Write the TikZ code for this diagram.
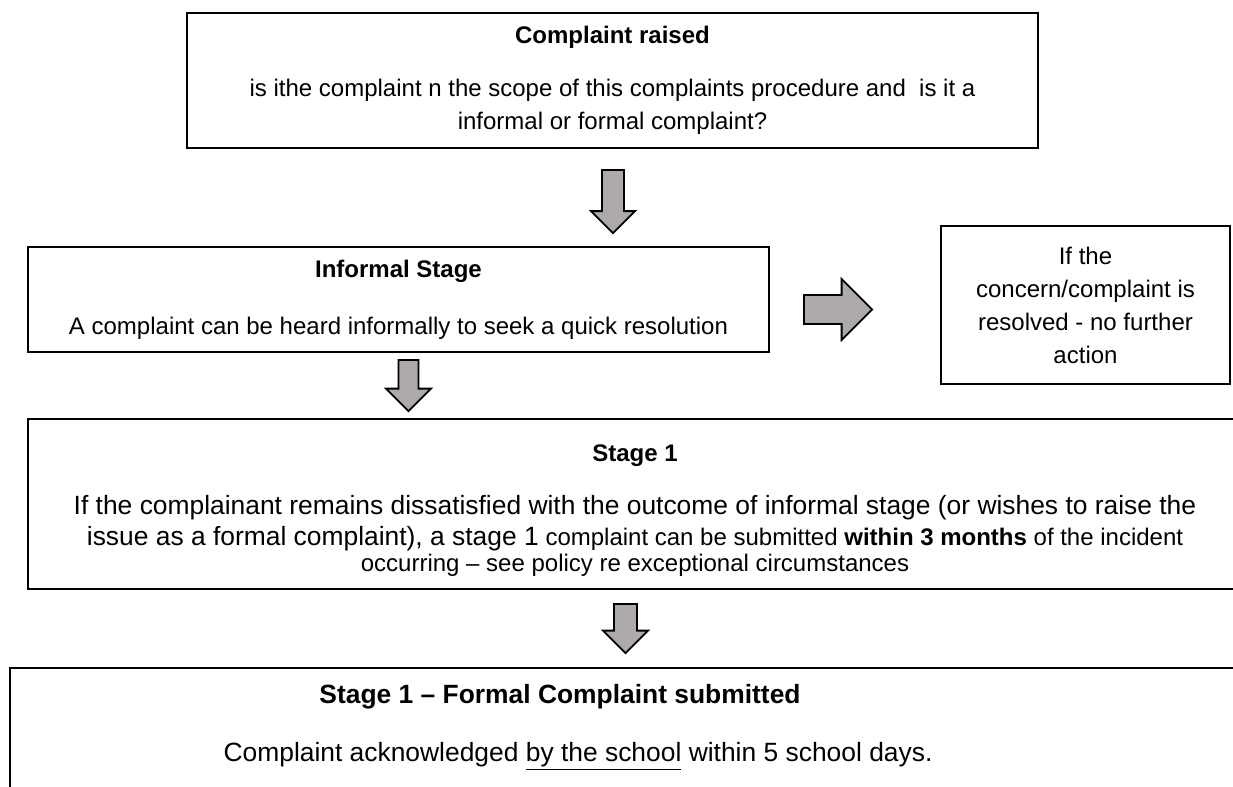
\documentclass[tikz,border=0pt]{standalone}
\usepackage{fontspec}
\setmainfont{Liberation Sans}
\usetikzlibrary{shapes.arrows, positioning}

\definecolor{arrowgray}{RGB}{174,170,170}
\newcommand{\boxfont}{\fontsize{12pt}{16.5pt}\selectfont}
\newcommand{\boxhead}{\fontsize{12pt}{16.5pt}\selectfont\bfseries}
\newcommand{\boxbig}{\fontsize{13.2pt}{15.5pt}\selectfont}

\begin{document}
\begin{tikzpicture}[x=0.5pt, y=-0.5pt,
  box/.style={draw, line width=0.9pt, align=center, inner sep=0pt, font=\boxfont},
  blockarrow/.style={single arrow, draw, line width=0.9pt, fill=arrowgray, inner xsep=0pt, anchor=tail}]

\useasboundingbox (0,0) rectangle (1233,787);
\clip (0,0) rectangle (1233,787);

\node[box, line width=0.7pt, minimum width=425.5pt, minimum height=67.5pt] (raised) at (612.5,80.5) {%
{\boxhead Complaint raised}\\[10pt]
is ithe complaint n the scope of this complaints procedure and~ is it a\\
informal or formal complaint?%
};

\node[box, minimum width=370.5pt, minimum height=52.5pt] (informal) at (398.5,299.5) {%
{\boxhead Informal Stage}\\[12pt]
A complaint can be heard informally to seek a quick resolution%
};

\node[box, minimum width=144.5pt, minimum height=79pt] (resolved) at (1085.5,305) {%
If the\\
concern/complaint is\\
resolved - no further\\
action%
};

\node[box, font=\fontsize{12pt}{13pt}\selectfont, minimum width=607pt, minimum height=85pt] (stageone) at (635,504) {%
{\boxhead\rule{0pt}{14.8pt}Stage 1}\\[13.5pt]
{\boxbig If the complainant remains dissatisfied with the outcome of informal stage (or wishes to raise the}\\[2.5pt]
{\boxbig issue as a formal complaint), a stage 1} complaint can be submitted \textbf{within 3 months} of the incident\\
occurring -- see policy re exceptional circumstances%
};

\node[draw, line width=0.9pt, minimum width=640pt, minimum height=100pt, anchor=north west] (formal) at (9,667) {};
\node[anchor=base, font=\boxbig\bfseries] (formaltitle) at (560,703) {Stage 1 -- Formal Complaint submitted};
\node[anchor=base, font=\boxbig] (formalbody) at (578,761) {Complaint acknowledged \underline{by the school} within 5 school days.};

% block arrows
\node[blockarrow, rotate=-90, minimum height=31.6pt, minimum width=21.1pt, inner ysep=5.05pt, single arrow head extend=5.5pt] (down1) at (613,169) {};
\node[blockarrow, rotate=-90, minimum height=25.6pt, minimum width=21.6pt, inner ysep=4.55pt, single arrow head extend=6.25pt] (down2) at (408.5,359) {};
\node[blockarrow, rotate=-90, minimum height=24.6pt, minimum width=21.6pt, inner ysep=5.3pt, single arrow head extend=5.5pt] (down3) at (625.5,603) {};
\node[blockarrow, minimum height=34.1pt, minimum width=29.6pt, inner ysep=6.8pt, single arrow head extend=8pt] (right1) at (803,309.5) {};

\end{tikzpicture}
\end{document}
